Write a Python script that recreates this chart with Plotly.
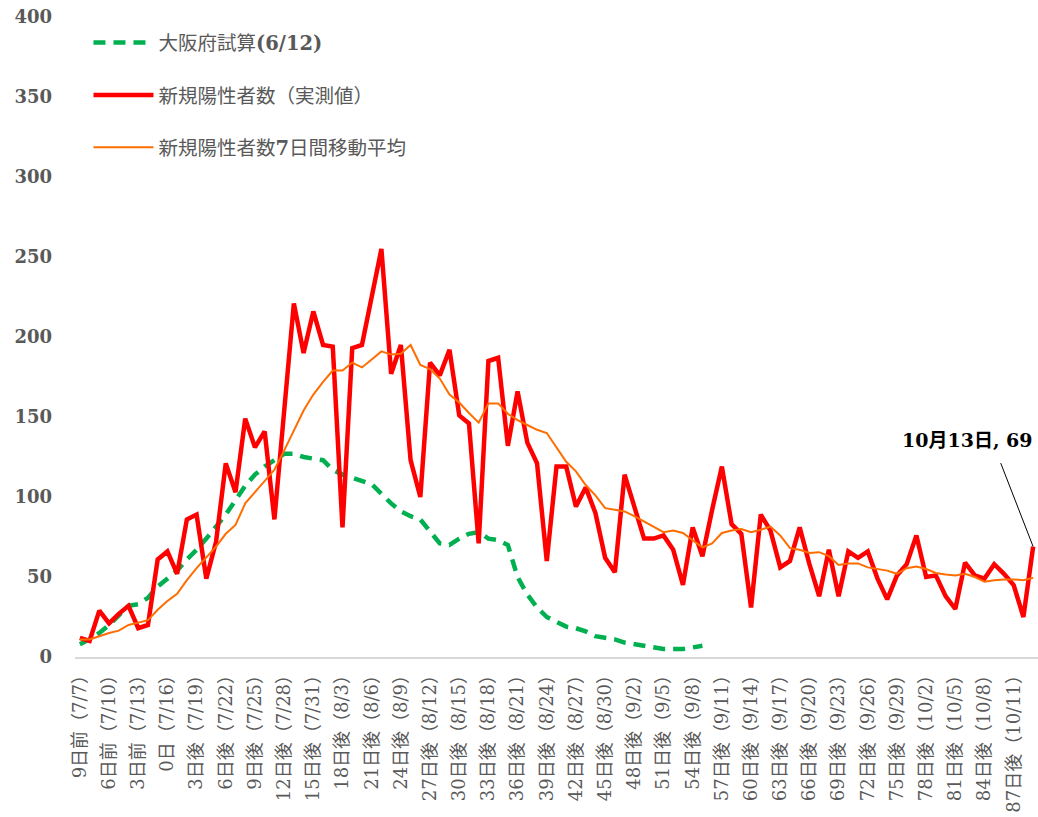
import plotly.graph_objects as go

# Day offsets from 0日 (7/16): 7/7 (-9) .. 10/13 (89)
days = list(range(-9, 90))

tick_days = list(range(-9, 88, 3))
tick_labels = [
    "9日前（7/7）", "6日前（7/10）", "3日前（7/13）", "0日（7/16）",
    "3日後（7/19）", "6日後（7/22）", "9日後（7/25）", "12日後（7/28）",
    "15日後（7/31）", "18日後（8/3）", "21日後（8/6）", "24日後（8/9）",
    "27日後（8/12）", "30日後（8/15）", "33日後（8/18）", "36日後（8/21）",
    "39日後（8/24）", "42日後（8/27）", "45日後（8/30）", "48日後（9/2）",
    "51日後（9/5）", "54日後（9/8）", "57日後（9/11）", "60日後（9/14）",
    "63日後（9/17）", "66日後（9/20）", "69日後（9/23）", "72日後（9/26）",
    "75日後（9/29）", "78日後（10/2）", "81日後（10/5）", "84日後（10/8）",
    "87日後（10/11）",
]

# 新規陽性者数（実測値）
new_cases = [
    12, 10, 29, 21, 27, 32, 18, 20, 61, 66,
    52, 86, 89, 49, 72, 121, 103, 149, 131, 141,
    86, 150, 221, 190, 216, 195, 194, 81, 193, 195,
    225, 255, 177, 195, 123, 100, 184, 176, 192, 151,
    146, 71, 185, 187, 132, 166, 134, 121, 60, 119,
    119, 94, 106, 90, 62, 53, 114, 94, 74, 74,
    76, 67, 45, 81, 63, 92, 119, 83, 77, 31,
    89, 79, 56, 60, 81, 58, 38, 67, 38, 66,
    62, 66, 49, 36, 51, 58, 76, 50, 51, 38,
    30, 59, 51, 49, 58, 52, 45, 25, 69,
]

# 新規陽性者数7日間移動平均
moving_avg = [
    11, 11, 13, 15, 16.5, 20, 21.5, 23, 29.5, 35,
    39.5, 48, 55.5, 62, 69, 77, 82.5, 96, 103, 110,
    117, 129, 142, 154, 164, 172, 179, 179, 184, 181,
    186, 191, 189, 189.5, 195, 182.5, 180, 174, 164, 159,
    152.5, 146.5, 158.5, 158.5, 152, 148, 145, 142, 140, 131,
    122, 116, 107.5, 101, 93, 92, 91, 88, 84.5, 81,
    78, 79, 77.5, 73, 68.5, 71, 77.5, 79, 80, 78,
    79.5, 81.5, 76, 68, 67, 65, 65.5, 63, 57.5, 58.5,
    58.5, 56, 55, 54, 52, 55.5, 56.5, 55, 52.5, 51.5,
    51, 52, 50, 47, 48, 48.5, 48.5, 48, 49.5,
]

# 大阪府試算(6/12)  (days -9 .. 55)
osaka_est = [
    8, 11, 15, 20, 26, 32, 33, 37, 44, 49,
    54, 61, 67, 74, 81, 89, 98, 107, 114, 119,
    123, 127, 127, 125, 124, 123, 117, 114, 112, 110,
    108, 102, 96, 91, 88, 86, 78, 71, 70, 74,
    77, 78, 74, 73, 70, 50, 39, 31, 25, 22,
    19, 18, 16, 13, 12, 11, 9, 8, 6.5, 6,
    5, 5, 5, 6, 7,
]

GRAY = "#595959"
LATIN = "DejaVu Serif, Noto Sans CJK JP"

fig = go.Figure()
fig.add_trace(go.Scatter(
    x=days[:len(osaka_est)], y=osaka_est, mode="lines",
    name="大阪府試算<b>(6/12)</b>", legendgroup="a",
    line=dict(color="#00B050", width=4.5, dash="12px,8px"),
))
fig.add_trace(go.Scatter(
    x=days, y=new_cases, mode="lines",
    name="新規陽性者数（実測値）", legendgroup="b",
    line=dict(color="#FF0000", width=4.5),
))
fig.add_trace(go.Scatter(
    x=days, y=moving_avg, mode="lines",
    name="新規陽性者数<b>7</b>日間移動平均", legendgroup="c",
    line=dict(color="#FF6D00", width=2),
))

fig.add_annotation(
    x=days[-1], y=new_cases[-1], xref="x", yref="y",
    text="<b>10月13日, 69</b>", showarrow=False,
    xshift=-66, yshift=107,
    font=dict(family=LATIN, size=19, color="#000000"),
)
fig.add_annotation(
    x=days[-1], y=new_cases[-1], xref="x", yref="y",
    text="", showarrow=True, ax=-33, ay=-85,
    arrowhead=0, arrowwidth=1, arrowcolor="#000000", standoff=0,
)

fig.update_layout(
    width=1038, height=817,
    margin=dict(l=75, r=0, t=17, b=160),
    paper_bgcolor="white", plot_bgcolor="white",
    showlegend=True,
    legend=dict(
        x=0.014, y=0.99, xanchor="left", yanchor="top",
        font=dict(family=LATIN, size=19.5, color=GRAY),
        tracegroupgap=24, itemwidth=60,
        bgcolor="rgba(0,0,0,0)",
    ),
    xaxis=dict(
        range=[-9.5, 89.5],
        tickmode="array", tickvals=tick_days, ticktext=tick_labels,
        tickangle=-90, ticks="", showgrid=False, zeroline=False,
        showline=True, linecolor="#D9D9D9", linewidth=1.5,
        tickfont=dict(family=LATIN, size=18, color=GRAY),
        ticklabelstandoff=0, automargin=False,
    ),
    yaxis=dict(
        range=[0, 400], dtick=50, tick0=0,
        showgrid=False, zeroline=False, showline=False, ticks="",
        tickfont=dict(family="DejaVu Serif", size=18, color=GRAY, weight="bold"),
        ticklabelstandoff=22, automargin=False,
    ),
)

fig.write_html(
    "out.html",
    config={"displayModeBar": False},
    post_script="document.body.style.margin='0';document.body.style.overflow='hidden';",
)
